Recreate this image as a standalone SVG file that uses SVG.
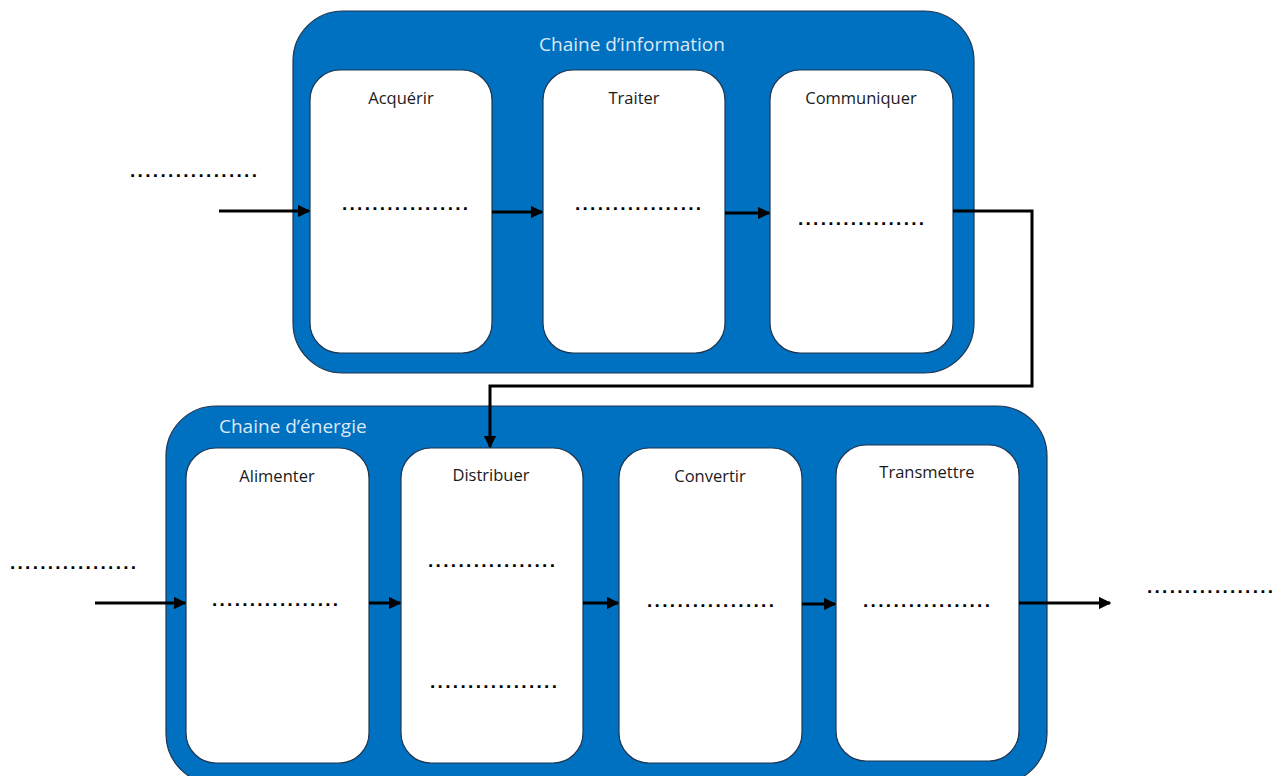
<svg xmlns="http://www.w3.org/2000/svg" width="1283" height="776" viewBox="0 0 1283 776">
<style>
.cont{fill:#0070C0;stroke:#1f3550;stroke-width:1.2}
.box{fill:#ffffff;stroke:#1f3550;stroke-width:1.2}
.lbl{font-family:"Open Sans","Liberation Sans",sans-serif;font-size:16.5px;fill:#1a1a1a;text-anchor:middle}
.title{font-family:"Open Sans","Liberation Sans",sans-serif;font-size:19px;fill:#dbe9f6}
.dots{font-family:"Liberation Sans",sans-serif;font-size:19px;font-weight:bold;fill:#000}
.con{fill:none;stroke:#000;stroke-width:3}
</style>
<defs>
<marker id="arr" viewBox="0 0 10 10" refX="9" refY="5" markerWidth="4.2" markerHeight="4.2" orient="auto" markerUnits="strokeWidth">
<path d="M0,0 L10,5 L0,10 z" fill="#000"/>
</marker>
</defs>
<rect width="1283" height="776" fill="#ffffff"/>
<g id="chaine-information">
<rect class="cont" x="293" y="11" width="681" height="362" rx="50"/>
<text class="title" x="632" y="51" text-anchor="middle">Chaine d’information</text>
</g>
<g id="chaine-energie">
<rect class="cont" x="166" y="406" width="881" height="378" rx="50"/>
<text class="title" x="219" y="433">Chaine d’énergie</text>
</g>
<g id="acquerir">
<rect class="box" x="310" y="70" width="182" height="283" rx="30"/>
<text class="lbl" x="401" y="104">Acquérir</text>
<text class="dots" x="342" y="210" textLength="126" lengthAdjust="spacing">.................</text>
</g>
<g id="traiter">
<rect class="box" x="543" y="70" width="182" height="283" rx="30"/>
<text class="lbl" x="634" y="104">Traiter</text>
<text class="dots" x="575" y="210" textLength="126" lengthAdjust="spacing">.................</text>
</g>
<g id="communiquer">
<rect class="box" x="770" y="70" width="183" height="283" rx="30"/>
<text class="lbl" x="861" y="104">Communiquer</text>
<text class="dots" x="798" y="225" textLength="126" lengthAdjust="spacing">.................</text>
</g>
<g id="alimenter">
<rect class="box" x="186" y="448" width="183" height="315" rx="30"/>
<text class="lbl" x="277" y="482">Alimenter</text>
<text class="dots" x="212" y="606" textLength="126" lengthAdjust="spacing">.................</text>
</g>
<g id="distribuer">
<rect class="box" x="401" y="448" width="182" height="315" rx="30"/>
<text class="lbl" x="491" y="481">Distribuer</text>
<text class="dots" x="428" y="567" textLength="127" lengthAdjust="spacing">.................</text>
<text class="dots" x="430" y="688" textLength="127" lengthAdjust="spacing">.................</text>
</g>
<g id="convertir">
<rect class="box" x="619" y="448" width="183" height="315" rx="30"/>
<text class="lbl" x="710" y="482">Convertir</text>
<text class="dots" x="647" y="607" textLength="127" lengthAdjust="spacing">.................</text>
</g>
<g id="transmettre">
<rect class="box" x="836" y="445" width="183" height="316" rx="30"/>
<text class="lbl" x="927" y="478">Transmettre</text>
<text class="dots" x="863" y="607" textLength="127" lengthAdjust="spacing">.................</text>
</g>
<g id="externes">
<text class="dots" x="130" y="177" textLength="127" lengthAdjust="spacing">.................</text>
<text class="dots" x="10" y="569" textLength="126" lengthAdjust="spacing">.................</text>
<text class="dots" x="1147" y="593" textLength="126" lengthAdjust="spacing">.................</text>
</g>
<g id="connecteurs">
<line class="con" x1="219" y1="211" x2="309" y2="211" marker-end="url(#arr)"/>
<line class="con" x1="492" y1="212" x2="542" y2="212" marker-end="url(#arr)"/>
<line class="con" x1="725" y1="213" x2="769" y2="213" marker-end="url(#arr)"/>
<polyline class="con" points="953,211 1032,211 1032,386 490,386 490,447" marker-end="url(#arr)"/>
<line class="con" x1="95" y1="603" x2="185" y2="603" marker-end="url(#arr)"/>
<line class="con" x1="369" y1="603" x2="400" y2="603" marker-end="url(#arr)"/>
<line class="con" x1="583" y1="603" x2="618" y2="603" marker-end="url(#arr)"/>
<line class="con" x1="802" y1="604" x2="835" y2="604" marker-end="url(#arr)"/>
<line class="con" x1="1019" y1="603" x2="1110" y2="603" marker-end="url(#arr)"/>
</g>
</svg>
